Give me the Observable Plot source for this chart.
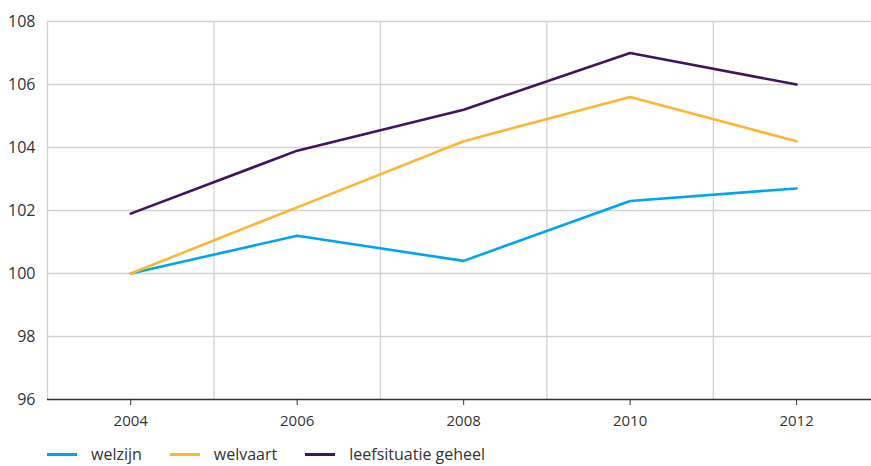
<!DOCTYPE html>
<html>
<head>
<meta charset="utf-8">
<script src="https://cdn.jsdelivr.net/npm/d3@7"></script>
<script src="https://cdn.jsdelivr.net/npm/@observablehq/plot@0.6"></script>
<style>
  html, body { margin: 0; padding: 0; background: #fff; overflow: hidden; }
  body { font-family: "Open Sans", sans-serif; color: #333; }
  #legend { display: flex; align-items: center; margin-left: 47px; margin-top: 0px; font-size: 16px; line-height: 20px; }
  .item { display: flex; align-items: center; margin-right: 28px; }
  .sw { width: 30px; height: 3px; margin-right: 14px; }
</style>
</head>
<body>
<div id="chart"></div>
<div id="legend"></div>
<script>
const years = [2004, 2006, 2008, 2010, 2012];
const seriesNames = ["welzijn", "welvaart", "leefsituatie geheel"];
const welzijn = [100, 101.2, 100.4, 102.3, 102.7];
const welvaart = [100, 102.1, 104.2, 105.6, 104.2];
const leefsituatie = [101.9, 103.9, 105.2, 107.0, 106.0];
const colors = ["#00a6eb", "#fbb731", "#42145f"];
const yTicks = [96, 98, 100, 102, 104, 106, 108];
const xGrid = [2003, 2005, 2007, 2009, 2011];

const values = [welzijn, welvaart, leefsituatie];
const data = [];
seriesNames.forEach((s, i) => years.forEach((y, j) => data.push({series: s, year: y, value: values[i][j]})));

const chart = Plot.plot({
  width: 871,
  height: 444,
  marginLeft: 47,
  marginRight: 0,
  marginTop: 21,
  marginBottom: 45,
  style: {fontFamily: "Open Sans, sans-serif", fontSize: "15px", color: "#333"},
  x: {domain: [2003, 2012.9]},
  y: {domain: [96, 108]},
  color: {domain: seriesNames, range: colors},
  marks: [
    Plot.ruleY(yTicks.slice(1), {stroke: "#d2d2d2", strokeWidth: 1.3}),
    Plot.ruleX(xGrid, {stroke: "#d2d2d2", strokeWidth: 1.3}),
    Plot.ruleY([96], {stroke: "#333", strokeWidth: 1.3}),
    Plot.axisY({ticks: yTicks, tickSize: 0, tickPadding: 12, label: null, tickFormat: d => String(d), fontSize: 16}),
    Plot.axisX({ticks: years, tickSize: 6, tickPadding: 10, label: null, tickFormat: d => String(d), stroke: "#333"}),
    Plot.line(data, {x: "year", y: "value", stroke: "series", z: "series", strokeWidth: 2.6})
  ]
});
document.getElementById("chart").appendChild(chart);

const legend = document.getElementById("legend");
seriesNames.forEach((s, i) => {
  const it = document.createElement("div");
  it.className = "item";
  const sw = document.createElement("div");
  sw.className = "sw";
  sw.style.background = colors[i];
  const t = document.createElement("span");
  t.textContent = s;
  it.appendChild(sw); it.appendChild(t);
  legend.appendChild(it);
});
</script>
</body>
</html>
